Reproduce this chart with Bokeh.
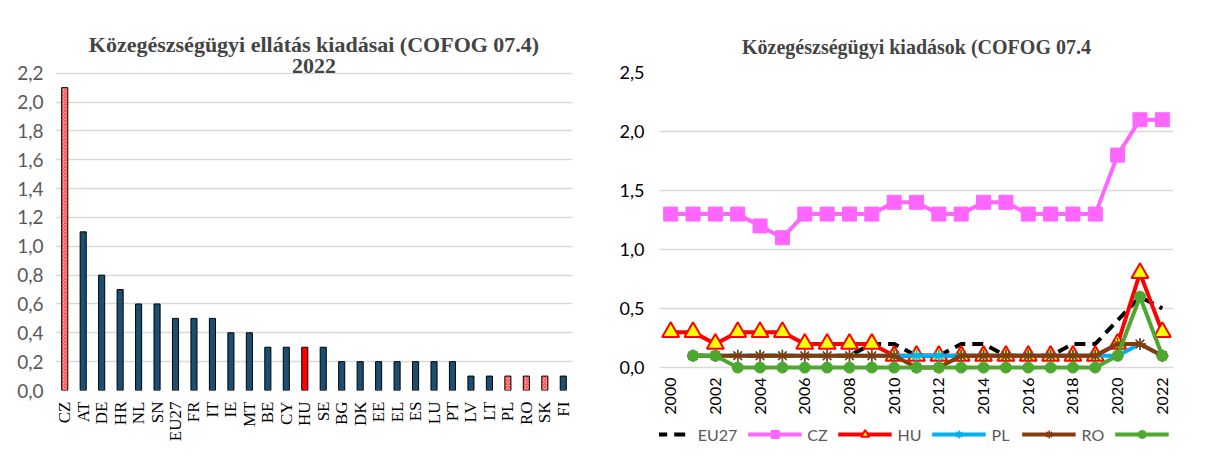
import math
from bokeh.plotting import figure
from bokeh.models import (ColumnDataSource, FixedTicker, CustomJSTickFormatter, Title,
                          Legend, LegendItem, Range1d, FactorRange)
from bokeh.layouts import row
from bokeh.embed import file_html
from bokeh.resources import INLINE

# ---------------- data ----------------
countries = ["CZ", "AT", "DE", "HR", "NL", "SN", "EU27", "FR", "IT", "IE", "MT", "BE", "CY", "HU",
             "SE", "BG", "DK", "EE", "EL", "ES", "LU", "PT", "LV", "LT", "PL", "RO", "SK", "FI"]
values_2022 = [2.1, 1.1, 0.8, 0.7, 0.6, 0.6, 0.5, 0.5, 0.5, 0.4, 0.4, 0.3, 0.3, 0.3,
               0.3, 0.2, 0.2, 0.2, 0.2, 0.2, 0.2, 0.2, 0.1, 0.1, 0.1, 0.1, 0.1, 0.1]
hatched_countries = ["CZ", "PL", "RO", "SK"]
solid_red_countries = ["HU"]
bar_ticks = [0.0, 0.2, 0.4, 0.6, 0.8, 1.0, 1.2, 1.4, 1.6, 1.8, 2.0, 2.2]

nan = float("nan")
years = [2000, 2001, 2002, 2003, 2004, 2005, 2006, 2007, 2008, 2009, 2010, 2011,
         2012, 2013, 2014, 2015, 2016, 2017, 2018, 2019, 2020, 2021, 2022]
eu27 = [nan, 0.1, 0.1, 0.1, 0.1, 0.1, 0.1, 0.1, 0.1, 0.2, 0.2, 0.1,
        0.1, 0.2, 0.2, 0.1, 0.1, 0.1, 0.2, 0.2, 0.4, 0.6, 0.5]
cz = [1.3, 1.3, 1.3, 1.3, 1.2, 1.1, 1.3, 1.3, 1.3, 1.3, 1.4, 1.4,
      1.3, 1.3, 1.4, 1.4, 1.3, 1.3, 1.3, 1.3, 1.8, 2.1, 2.1]
hu = [0.3, 0.3, 0.2, 0.3, 0.3, 0.3, 0.2, 0.2, 0.2, 0.2, 0.1, 0.1,
      0.1, 0.1, 0.1, 0.1, 0.1, 0.1, 0.1, 0.1, 0.2, 0.8, 0.3]
pl = [nan, 0.1, 0.1, 0.1, 0.1, 0.1, 0.1, 0.1, 0.1, 0.1, 0.1, 0.1,
      0.1, 0.1, 0.1, 0.1, 0.1, 0.1, 0.1, 0.1, 0.1, 0.2, 0.1]
ro = [nan, 0.1, 0.1, 0.1, 0.1, 0.1, 0.1, 0.1, 0.1, 0.1, 0.1, 0.0,
      0.0, 0.1, 0.1, 0.1, 0.1, 0.1, 0.1, 0.1, 0.2, 0.2, 0.1]
sk = [nan, 0.1, 0.1, 0.0, 0.0, 0.0, 0.0, 0.0, 0.0, 0.0, 0.0, 0.0,
      0.0, 0.0, 0.0, 0.0, 0.0, 0.0, 0.0, 0.0, 0.1, 0.6, 0.1]
year_ticks = [2000, 2002, 2004, 2006, 2008, 2010, 2012, 2014, 2016, 2018, 2020, 2022]
line_ticks = [0.0, 0.5, 1.0, 1.5, 2.0, 2.5]

comma_fmt1 = CustomJSTickFormatter(code="return tick.toFixed(1).replace('.', ',');")
comma_fmt2 = CustomJSTickFormatter(code="return tick.toFixed(1).replace('.', ',');")
GRID = "#d9d9d9"


def clean_axes(p):
    for ax in (p.xaxis, p.yaxis):
        ax.axis_line_color = None
        ax.major_tick_line_color = None
        ax.minor_tick_line_color = None
        ax.major_tick_out = 0
        ax.major_tick_in = 0
        ax.minor_tick_out = 0
        ax.minor_tick_in = 0
    p.xgrid.grid_line_color = None
    p.ygrid.grid_line_color = GRID
    p.ygrid.grid_line_width = 1.3
    p.outline_line_color = None


# ---------------- left: bar chart ----------------
fill = []
hatch = []
for c in countries:
    if c in hatched_countries:
        fill.append("#ffc4c4"); hatch.append("diagonal_cross")
    elif c in solid_red_countries:
        fill.append("#ff0000"); hatch.append(" ")
    else:
        fill.append("#1b4f72"); hatch.append(" ")
bar_src = ColumnDataSource(dict(country=countries, value=values_2022, fill=fill, hatch=hatch))

p1 = figure(frame_width=517, frame_height=318, x_range=FactorRange(*countries),
            y_range=Range1d(0, 2.205),
            output_backend="svg", toolbar_location=None,
            min_border_left=55, min_border_right=24, min_border_top=72, min_border_bottom=62)
p1.vbar(x="country", top="value", width=0.33, source=bar_src, fill_color="fill",
        line_color="black", line_width=1, hatch_pattern="hatch", hatch_color="#ff2a2a",
        hatch_scale=3.5, hatch_weight=1)
p1.title.text = "Közegészségügyi ellátás kiadásai (COFOG 07.4)"
p1.title.align = "center"
p1.title.text_font = "Liberation Serif"
p1.title.text_font_size = "22px"
p1.title.text_font_style = "bold"
p1.title.standoff = 0
p1.add_layout(Title(text="2022", align="center", standoff=0,
                    text_font="Liberation Serif", text_font_size="22px", text_font_style="bold"),
              "above")
p1.yaxis.ticker = FixedTicker(ticks=bar_ticks)
p1.yaxis.formatter = comma_fmt1
p1.yaxis.major_label_text_font = "Lato"
p1.yaxis.major_label_text_font_size = "19px"
p1.yaxis.major_label_text_color = "#595959"
p1.yaxis.major_label_standoff = 12
p1.xaxis.major_label_orientation = math.pi / 2
p1.xaxis.major_label_text_font = "Liberation Serif"
p1.xaxis.major_label_text_font_size = "17px"
p1.xaxis.major_label_text_color = "black"
p1.xaxis.major_label_standoff = 11
clean_axes(p1)

# ---------------- right: line chart ----------------
# the frame extends below 0 so that the year labels and the legend sit inside it
p2 = figure(frame_width=514, frame_height=376, x_range=Range1d(1999.5, 2022.5),
            y_range=Range1d(-0.686, 2.5),
            output_backend="svg", toolbar_location=None,
            min_border_left=58, min_border_right=26, min_border_top=72, min_border_bottom=4)
src = ColumnDataSource(dict(year=years, eu27=eu27, cz=cz, hu=hu, pl=pl, ro=ro, sk=sk))

r_eu = p2.line("year", "eu27", source=src, line_color="black", line_width=4, line_dash="11 7")
r_cz = p2.line("year", "cz", source=src, line_color="#ff66ff", line_width=4)
m_cz = p2.scatter("year", "cz", source=src, marker="square", size=14, fill_color="#ff66ff",
                  line_color="#ff66ff")
r_hu = p2.line("year", "hu", source=src, line_color="#ff0000", line_width=4)
m_hu = p2.scatter("year", "hu", source=src, marker="triangle", size=17, fill_color="#ffff00",
                  line_color="#ff0000", line_width=2)
r_pl = p2.line("year", "pl", source=src, line_color="#00b0f0", line_width=4)
m_pl = p2.scatter("year", "pl", source=src, marker="asterisk", size=12, line_color="#00b0f0",
                  line_width=1.5)
r_ro = p2.line("year", "ro", source=src, line_color="#843c0c", line_width=4)
m_ro = p2.scatter("year", "ro", source=src, marker="asterisk", size=12, line_color="#843c0c",
                  line_width=1.5)
r_sk = p2.line("year", "sk", source=src, line_color="#4ea72e", line_width=4)
m_sk = p2.scatter("year", "sk", source=src, marker="circle", size=11, fill_color="#4ea72e",
                  line_color="#4ea72e")

p2.title.text = "Közegészségügyi kiadások (COFOG 07.4"
p2.title.align = "center"
p2.title.text_font = "Liberation Serif"
p2.title.text_font_size = "20px"
p2.title.text_font_style = "bold"
p2.title.standoff = 30

p2.yaxis.ticker = FixedTicker(ticks=line_ticks)
p2.yaxis.formatter = comma_fmt2
p2.yaxis.major_label_text_font = "Lato"
p2.yaxis.major_label_text_font_size = "18px"
p2.yaxis.major_label_text_color = "black"
p2.yaxis.major_label_standoff = 15
p2.xaxis.ticker = FixedTicker(ticks=year_ticks)
p2.xaxis.fixed_location = 0
p2.xaxis.major_label_orientation = math.pi / 2
p2.xaxis.major_label_text_font = "Lato"
p2.xaxis.major_label_text_font_size = "16px"
p2.xaxis.major_label_text_color = "black"
p2.xaxis.major_label_standoff = 10
clean_axes(p2)

legend = Legend(items=[
    LegendItem(label="EU27", renderers=[r_eu]),
    LegendItem(label="CZ", renderers=[r_cz, m_cz]),
    LegendItem(label="HU", renderers=[r_hu, m_hu]),
    LegendItem(label="PL", renderers=[r_pl, m_pl]),
    LegendItem(label="RO", renderers=[r_ro, m_ro]),
    LegendItem(label="SK", renderers=[r_sk, m_sk]),
], orientation="horizontal", location="bottom_center", glyph_width=54, glyph_height=20,
    label_standoff=6, spacing=10, padding=2, margin=4,
    label_text_font="Lato", label_text_font_size="16px", label_text_color="#595959",
    border_line_color=None, background_fill_alpha=0)
p2.add_layout(legend)

layout = row(p1, p2, spacing=5)
open("out.html", "w").write(file_html(layout, INLINE))
